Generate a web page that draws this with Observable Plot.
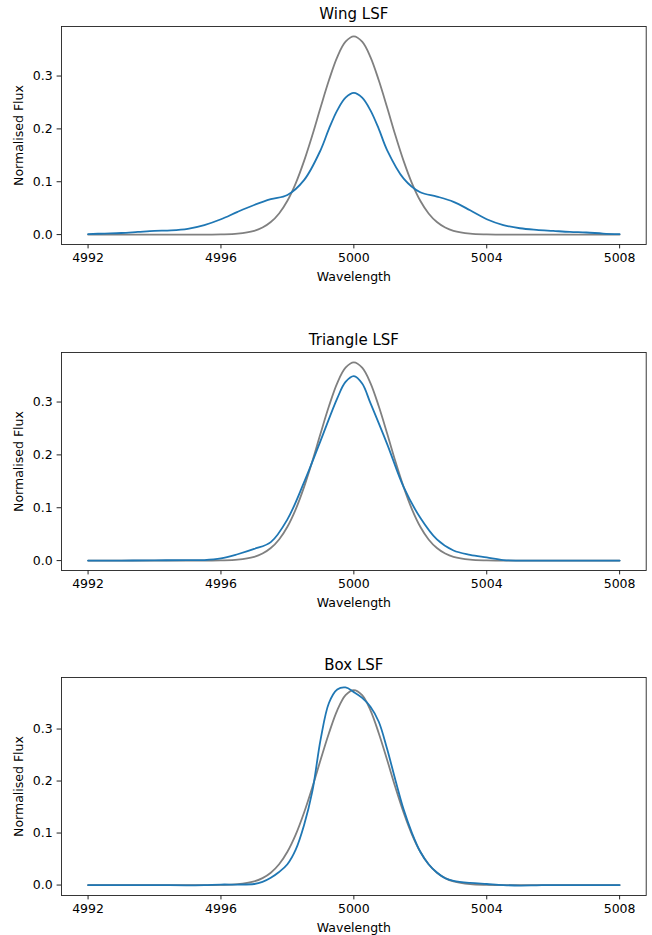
<!DOCTYPE html>
<html>
<head>
<meta charset="utf-8">
<script src="https://cdn.jsdelivr.net/npm/d3@7"></script>
<script src="https://cdn.jsdelivr.net/npm/@observablehq/plot@0.6"></script>
<style>
  body { margin: 0; background: #fff; }
  #chart svg { display: block; }
</style>
</head>
<body>
<div id="chart"></div>
<script>
// ---- Data ----
const titles = ["Wing LSF", "Triangle LSF", "Box LSF"];
const xTicks = [4992, 4996, 5000, 5004, 5008];
const yTicks = [0, 0.1, 0.2, 0.3];
const xLabel = "Wavelength";
const yLabel = "Normalised Flux";

// Reference (grey) profile
const refWl = [4992, 4993, 4994, 4995, 4995.5, 4996, 4996.5, 4997, 4997.25, 4997.5, 4997.75,
  4998, 4998.25, 4998.5, 4998.75, 4999, 4999.25, 4999.5, 4999.75, 5000,
  5000.25, 5000.5, 5000.75, 5001, 5001.25, 5001.5, 5001.75, 5002, 5002.25, 5002.5, 5002.75,
  5003, 5003.5, 5004, 5004.5, 5005, 5006, 5007, 5008];
const refFlux = [0, 0, 0, 0, 0.0000, 0.0003, 0.0017, 0.0070, 0.0133, 0.0237, 0.040,
  0.064, 0.097, 0.139, 0.188, 0.241, 0.292, 0.336, 0.365, 0.375,
  0.365, 0.336, 0.292, 0.241, 0.188, 0.139, 0.097, 0.064, 0.040, 0.0237, 0.0133,
  0.0070, 0.0017, 0.0003, 0.0000, 0, 0, 0, 0];

// Wing LSF (blue)
const wingWl = [4992, 4992.5, 4993, 4993.5, 4994, 4994.5, 4995, 4995.5, 4996, 4996.5, 4997, 4997.5,
  4998, 4998.5, 4999, 4999.25, 4999.5, 4999.75, 5000, 5000.25, 5000.5, 5000.75, 5001, 5001.5, 5002, 5002.5, 5003, 5003.5,
  5004, 5004.5, 5005, 5005.5, 5006, 5006.5, 5007, 5007.5, 5008];
const wingFlux = [0.001, 0.002, 0.003, 0.005, 0.007, 0.008, 0.011, 0.018, 0.029, 0.043, 0.056, 0.067,
  0.075, 0.103, 0.160, 0.200, 0.235, 0.259, 0.268, 0.259, 0.235, 0.200, 0.160, 0.106, 0.080, 0.072, 0.062, 0.046,
  0.029, 0.018, 0.012, 0.009, 0.007, 0.005, 0.004, 0.002, 0.001];

// Triangle LSF (blue)
const triWl = [4992, 4993, 4994, 4995, 4995.5, 4996, 4996.5, 4997, 4997.5, 4998, 4998.5,
  4999, 4999.5, 4999.75, 5000, 5000.25, 5000.5, 5001, 5001.5, 5002, 5002.5, 5003, 5003.5,
  5004, 5004.5, 5005, 5006, 5007, 5008];
const triFlux = [0, 0, 0.0005, 0.001, 0.001, 0.004, 0.012, 0.022, 0.035, 0.078, 0.148,
  0.227, 0.307, 0.338, 0.349, 0.335, 0.298, 0.221, 0.139, 0.081, 0.040, 0.019, 0.011,
  0.006, 0.001, 0, 0, 0, 0];

// Box LSF (blue)
const boxWl = [4992, 4993, 4994, 4995, 4995.5, 4996, 4996.5, 4997, 4997.25, 4997.5, 4997.75,
  4998, 4998.25, 4998.5, 4998.75, 4999, 4999.25, 4999.5, 4999.75, 5000,
  5000.25, 5000.5, 5000.75, 5001, 5001.25, 5001.5, 5001.75, 5002, 5002.25, 5002.5, 5002.75,
  5003, 5003.5, 5004, 5004.5, 5005, 5005.5, 5006, 5007, 5008];
const boxFlux = [0, 0, 0, -0.0005, 0, 0.001, 0.001, 0.002, 0.006, 0.014, 0.025,
  0.040, 0.068, 0.115, 0.180, 0.280, 0.350, 0.376, 0.380, 0.371,
  0.360, 0.343, 0.314, 0.262, 0.202, 0.145, 0.100, 0.064, 0.040, 0.024, 0.013,
  0.008, 0.004, 0.002, 0.000, -0.001, -0.0005, 0, 0, 0];

// ---- Build ----
const toRows = (wl, fl) => wl.map((w, i) => ({wl: w, flux: fl[i]}));
const refRows = toRows(refWl, refFlux);
const panels = [
  {title: titles[0], rows: toRows(wingWl, wingFlux), yDomain: [-0.01875, 0.39375], height: 326, marginBottom: 82},
  {title: titles[1], rows: toRows(triWl, triFlux), yDomain: [-0.01875, 0.39375], height: 325, marginBottom: 81},
  {title: titles[2], rows: toRows(boxWl, boxFlux), yDomain: [-0.0201, 0.3991], height: 284, marginBottom: 40}
];

const container = document.getElementById("chart");
for (const p of panels) {
  const svg = Plot.plot({
    width: 652,
    height: p.height,
    marginTop: 26,
    marginBottom: p.marginBottom,
    marginLeft: 61,
    marginRight: 6.3,
    style: {fontFamily: "DejaVu Sans", fontSize: "12.5px", background: "white", color: "black", overflow: "visible"},
    x: {domain: [4991.2, 5008.8], label: null},
    y: {domain: p.yDomain, label: null},
    marks: [
      Plot.line(refRows, {x: "wl", y: "flux", stroke: "#808080", strokeWidth: 1.8, curve: "catmull-rom"}),
      Plot.line(p.rows, {x: "wl", y: "flux", stroke: "#1f77b4", strokeWidth: 1.8, curve: "catmull-rom"}),
      Plot.frame({stroke: "#222", strokeWidth: 0.9}),
      Plot.axisX(xTicks, {tickSize: 4.4, tickPadding: 4.4, tickFormat: d => String(d), label: null, stroke: "#222", fill: "black"}),
      Plot.axisY(yTicks, {tickSize: 4.4, tickPadding: 4.4, tickFormat: d => d.toFixed(1), label: null, stroke: "#222", fill: "black"}),
      Plot.text([p.title], {frameAnchor: "top", textAnchor: "middle", lineAnchor: "top", dy: -18.5, fontSize: 15, fill: "black"}),
      Plot.text([xLabel], {frameAnchor: "bottom", textAnchor: "middle", lineAnchor: "top", dy: 27.5, fill: "black"}),
      Plot.text([yLabel], {frameAnchor: "left", textAnchor: "middle", lineAnchor: "top", rotate: -90, dx: -47, fill: "black"})
    ]
  });
  container.appendChild(svg);
}
</script>
</body>
</html>
